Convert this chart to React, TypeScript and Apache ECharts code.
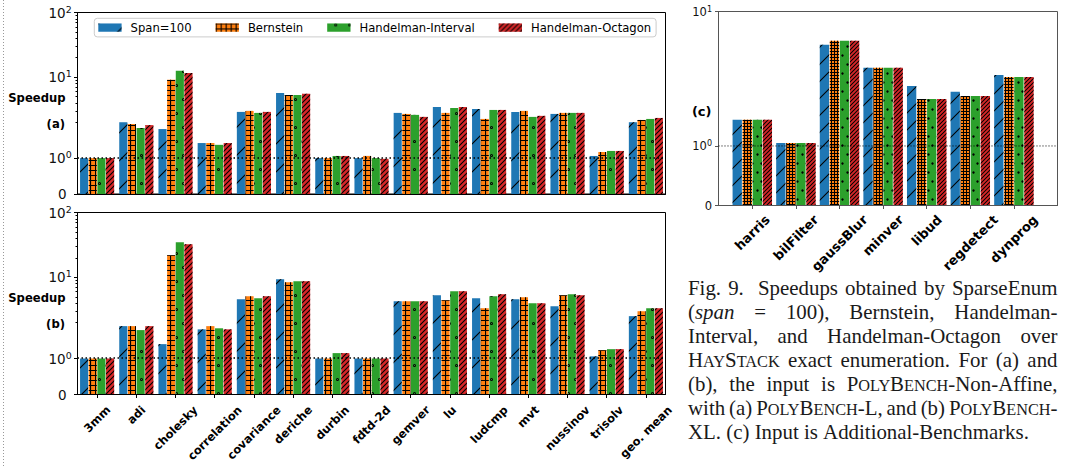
import React, { useEffect, useRef } from 'react';
import * as echarts from 'echarts';

const SERIES_NAMES = ['Span=100', 'Bernstein', 'Handelman-Interval', 'Handelman-Octagon'];
const COLORS = ['#1f77b4', '#ff7f0e', '#2ca02c', '#d62728'];

const BENCH_AB = ['3mm', 'adi', 'cholesky', 'correlation', 'covariance', 'deriche', 'durbin', 'fdtd-2d', 'gemver', 'lu', 'ludcmp', 'mvt', 'nussinov', 'trisolv', 'geo. mean'];

// panel (a): PolyBench-L
const A_SPAN = [1.0, 2.0, 1.81, 1.42, 2.89, 5.69, 1.0, 1.0, 2.79, 3.45, 3.21, 2.89, 2.69, 1.06, 2.0];
const A_BERN = [1.0, 1.95, 9.06, 1.42, 2.99, 5.3, 1.0, 1.06, 2.69, 2.79, 2.25, 2.99, 2.79, 1.17, 2.17];
const A_HINT = [1.0, 1.84, 12.5, 1.37, 2.79, 5.3, 1.06, 1.0, 2.6, 3.33, 3.1, 2.42, 2.79, 1.2, 2.25];
const A_HOCT = [1.0, 1.92, 11.6, 1.42, 2.89, 5.5, 1.06, 0.98, 2.42, 3.45, 3.1, 2.51, 2.79, 1.2, 2.33];

// panel (b): PolyBench-XL
const B_SPAN = [1.0, 1.9, 1.4, 1.81, 4.58, 9.33, 1.0, 1.0, 4.27, 5.28, 4.75, 4.58, 3.57, 1.06, 2.51];
const B_BERN = [1.0, 1.9, 21.9, 1.9, 5.1, 8.4, 1.0, 1.0, 4.27, 4.43, 3.33, 4.92, 5.28, 1.23, 2.99];
const B_HINT = [1.0, 1.79, 34.8, 1.84, 4.75, 8.7, 1.15, 1.0, 4.27, 6.1, 5.1, 3.98, 5.48, 1.26, 3.33];
const B_HOCT = [1.0, 1.9, 32.4, 1.81, 5.1, 8.7, 1.15, 1.0, 4.27, 6.1, 5.48, 3.98, 5.28, 1.26, 3.33];

// panel (c): Additional-Benchmarks
const BENCH_C = ['harris', 'bilFilter', 'gaussBlur', 'minver', 'libud', 'regdetect', 'dynprog'];
const C_SPAN = [1.44, 1.05, 4.89, 2.98, 2.02, 1.91, 2.56];
const C_BERN = [1.44, 1.05, 5.33, 2.98, 1.79, 1.84, 2.45];
const C_HINT = [1.44, 1.05, 5.33, 2.98, 1.79, 1.84, 2.45];
const C_HOCT = [1.44, 1.05, 5.33, 2.98, 1.79, 1.84, 2.45];

const MAJOR_AB = [0, 1, 10, 100];
const MINOR_AB = [2, 3, 4, 5, 6, 7, 8, 9, 20, 30, 40, 50, 60, 70, 80, 90];
const MAJOR_C = [0, 1, 10];

const CAPTION = [
  'Fig. 9.  Speedups obtained by SparseEnum',
  '(_span_ = 100), Bernstein, Handelman-',
  'Interval, and Handelman-Octagon over',
  'H[AY]S[TACK] exact enumeration. For (a) and',
  '(b), the input is P[OLY]B[ENCH]-Non-Affine,',
  'with (a) P[OLY]B[ENCH]-L, and (b) P[OLY]B[ENCH]-',
  'XL. (c) Input is Additional-Benchmarks.',
];

const FONT = 'DejaVu Sans';
const SERIF = 'Liberation Serif';

// matplotlib symlog (linthresh = 2, linscale = 1, base 10), in decades
const LINTHRESH = 2;
const LINSCALE = 1 / (1 - 1 / 10);
function symlog(v: number): number {
  return v <= LINTHRESH ? (v / LINTHRESH) * LINSCALE : LINSCALE + Math.log10(v / LINTHRESH);
}

function diagPath(d: number) {
  const a = (10 - d).toFixed(3);
  const b = d.toFixed(3);
  return `path://M0,${a}L${a},0L10,0L10,${b}L${b},10L0,10ZM0,0L${b},0L0,${b}ZM10,10L${a},10L10,${a}Z`;
}
function gridPath(t: number) {
  const b = t.toFixed(3);
  return `path://M0,0L10,0L10,${b}L${b},${b}L${b},10L0,10Z`;
}
const RING = 'path://M5,0A5,5,0,1,1,5,10A5,5,0,1,1,5,0ZM5,3A2,2,0,1,0,5,7A2,2,0,1,0,5,3Z';

const DECALS_AB: any[] = [
  { symbol: diagPath((0.8 * 10) / 28), symbolSize: 1, dashArrayX: [28, 0], dashArrayY: [28, 0], color: '#000' },
  { symbol: gridPath((1.1 * 10) / 5), symbolSize: 1, dashArrayX: [5, 0], dashArrayY: [5, 0], color: '#000' },
  { symbol: RING, symbolSize: 1, dashArrayX: [[3, 11], [0, 7, 3, 4]], dashArrayY: [3, 11], color: '#000' },
  { symbol: diagPath((0.8 * 10) / 5), symbolSize: 1, dashArrayX: [5, 0], dashArrayY: [5, 0], color: '#000' },
];
const DECALS_C: any[] = [
  { symbol: diagPath((0.75 * 10) / 17), symbolSize: 1, dashArrayX: [17, 0], dashArrayY: [17, 0], color: '#000' },
  { symbol: gridPath((1.0 * 10) / 3), symbolSize: 1, dashArrayX: [3, 0], dashArrayY: [3, 0], color: '#000' },
  { symbol: 'circle', symbolSize: 0.8, dashArrayX: [[3, 6], [0, 4, 3, 2]], dashArrayY: [3, 6], color: '#000' },
  { symbol: diagPath((0.7 * 10) / 4), symbolSize: 1, dashArrayX: [4, 0], dashArrayY: [4, 0], color: '#000' },
];

let measureCtx: CanvasRenderingContext2D | null = null;
function textWidth(s: string, font: string): number {
  if (!measureCtx) measureCtx = document.createElement('canvas').getContext('2d');
  measureCtx!.font = font;
  return measureCtx!.measureText(s).width;
}

function majorFormatter(majors: number[]) {
  return (v: number) => {
    let best = 0;
    majors.forEach((m, i) => {
      if (Math.abs(symlog(m) - v) < Math.abs(symlog(majors[best]) - v)) best = i;
    });
    const m = majors[best];
    if (m === 0) return '{z|0}';
    return `{b|10}{s|${Math.round(Math.log10(m))}}`;
  };
}

function richFor(fs: number, zeroPad: number) {
  const lh = Math.round(fs * 1.15);
  return {
    z: { fontSize: fs, fontFamily: FONT, color: '#111', lineHeight: lh, padding: [0, zeroPad, 0, 0] },
    b: { fontSize: fs, fontFamily: FONT, color: '#111', lineHeight: lh },
    s: { fontSize: fs * 0.7, fontFamily: FONT, color: '#111', lineHeight: Math.round(fs * 0.62), verticalAlign: 'top' },
  };
}

function labelSeries(cats: string[], xIdx: number, yIdx: number, fs: number, pad: number) {
  return {
    type: 'custom',
    xAxisIndex: xIdx,
    yAxisIndex: yIdx,
    silent: true,
    clip: false,
    z: 10,
    data: cats.map((_, i) => [i, 0]),
    renderItem: (params: any, api: any) => {
      const i = api.value(0);
      const p = api.coord([i, 0]);
      const label = cats[i];
      const font = `bold ${fs}px "${FONT}"`;
      const L = textWidth(label, font);
      const h = fs * 1.17;
      const B = (L + h) / Math.SQRT2;
      return {
        type: 'text',
        x: p[0],
        y: p[1] + pad + B / 2,
        rotation: Math.PI / 4,
        style: {
          text: label,
          font,
          fontSize: fs,
          fontWeight: 'bold',
          fontFamily: FONT,
          fill: '#000',
          align: 'center',
          verticalAlign: 'middle',
        },
      };
    },
  };
}

function barSeries(vals: number[][], decals: any[], xIdx: number, yIdx: number, barWidth: number, gap: string, withLine: boolean) {
  return vals.map((v, k) => {
    const s: any = {
      type: 'bar',
      name: SERIES_NAMES[k],
      xAxisIndex: xIdx,
      yAxisIndex: yIdx,
      data: v.map(symlog),
      barWidth,
      barGap: gap,
      itemStyle: { color: COLORS[k], decal: decals[k] },
      emphasis: { disabled: true },
      z: 2,
    };
    if (withLine && k === 0) {
      s.markLine = {
        silent: true,
        symbol: ['none', 'none'],
        label: { show: false },
        lineStyle: { type: [1.5, 2.5], color: '#000', width: 1.5 },
        data: [{ yAxis: symlog(1) }],
        z: 6,
      };
    }
    return s;
  });
}

function captionGraphics(): any[] {
  const lineStart = 688;
  const lineEnd = 1057.5;
  const parse = (word: string) => {
    const segs: { t: string; kind: 'n' | 's' | 'i' }[] = [];
    let kind: 'n' | 's' | 'i' = 'n';
    let cur = '';
    for (const ch of word) {
      if (ch === '[' || ch === ']' || ch === '_') {
        if (cur) segs.push({ t: cur, kind });
        cur = '';
        if (ch === '[') kind = 's';
        else if (ch === ']') kind = 'n';
        else kind = kind === 'i' ? 'n' : 'i';
      } else cur += ch;
    }
    if (cur) segs.push({ t: cur, kind });
    return segs;
  };
  const fontOf = (kind: string, F: number) =>
    kind === 'i' ? `italic ${F}px "${SERIF}"` : kind === 's' ? `${F * 0.78}px "${SERIF}"` : `${F}px "${SERIF}"`;
  const wordWidth = (segs: any[], F: number) => segs.reduce((acc, s) => acc + textWidth(s.t, fontOf(s.kind, F)), 0);

  // fit font size to the final (non-justified) line width
  const last = CAPTION[CAPTION.length - 1].split(' ').map(parse);
  const w20 = last.reduce((a, s) => a + wordWidth(s, 20), 0) + (last.length - 1) * textWidth(' ', `20px "${SERIF}"`);
  const F = (20 * 341) / w20;
  const space = textWidth(' ', `${F}px "${SERIF}"`);

  const out: any[] = [];
  CAPTION.forEach((line, li) => {
    const raw = line.split(' ');
    const words: any[] = [];
    const weights: number[] = [];
    let pending = 0;
    raw.forEach((w) => {
      if (w === '') {
        pending += 1;
        return;
      }
      if (words.length > 0) weights.push(1 + pending);
      pending = 0;
      words.push(parse(w));
    });
    const total = words.reduce((a, s) => a + wordWidth(s, F), 0);
    const wsum = weights.reduce((a, b) => a + b, 0);
    const isLast = li === CAPTION.length - 1;
    const gapUnit = isLast || wsum === 0 ? space : (lineEnd - lineStart - total) / wsum;
    const baseline = 295 + li * 24.0;
    let x = lineStart;
    words.forEach((segs, wi) => {
      segs.forEach((s: any) => {
        const size = s.kind === 's' ? F * 0.78 : F;
        out.push({
          type: 'text',
          x,
          y: baseline - 0.34 * size,
          silent: true,
          style: {
            text: s.t,
            fontFamily: SERIF,
            fontSize: size,
            fontStyle: s.kind === 'i' ? 'italic' : 'normal',
            fill: '#1a1a1a',
            align: 'left',
            verticalAlign: 'middle',
          },
        });
        x += textWidth(s.t, fontOf(s.kind, F));
      });
      if (wi < weights.length) x += gapUnit * weights[wi];
    });
  });
  return out;
}

function buildOption(): any {
  const maxAB = symlog(100);
  const maxC = symlog(10);
  const majorAB = MAJOR_AB.map(symlog);
  const minorAB = MINOR_AB.map(symlog);
  const majorC = MAJOR_C.map(symlog);
  const black = { color: '#000', width: 1 };
  const gray = { color: '#555', width: 1 };

  const mainY = (gridIndex: number, max: number, majors: number[], fmtMajors: number[], fs: number, zeroPad: number, lineStyle: any, margin: number) => ({
    type: 'value',
    gridIndex,
    min: 0,
    max,
    position: 'left',
    z: 5,
    splitLine: { show: false },
    axisLine: { show: true, lineStyle },
    axisTick: { show: true, length: 3.5, lineStyle, customValues: majors },
    axisLabel: {
      show: true,
      customValues: majors,
      formatter: majorFormatter(fmtMajors),
      fontSize: fs,
      fontFamily: FONT,
      color: '#111',
      rich: richFor(fs, zeroPad),
      margin,
      showMinLabel: true,
      showMaxLabel: true,
    },
  });
  const minorY = (gridIndex: number, max: number) => ({
    type: 'value',
    gridIndex,
    min: 0,
    max,
    position: 'left',
    offset: 0,
    z: 5,
    splitLine: { show: false },
    axisLine: { show: false },
    axisTick: { show: true, length: 2, lineStyle: black, customValues: minorAB },
    axisLabel: { show: false },
  });

  const textG = (text: string, x: number, y: number, fs: number) => ({
    type: 'text',
    x,
    y,
    silent: true,
    style: { text, fontFamily: FONT, fontWeight: 'bold', fontSize: fs, fill: '#000', align: 'right', verticalAlign: 'middle' },
  });

  return {
    animation: false,
    backgroundColor: '#fff',
    grid: [
      { left: 77.5, top: 12.5, width: 588, height: 181.5, show: true, borderColor: '#000', borderWidth: 1, backgroundColor: 'transparent' },
      { left: 77.5, top: 212.5, width: 588, height: 182, show: true, borderColor: '#000', borderWidth: 1, backgroundColor: 'transparent' },
      { left: 718.5, top: 11.5, width: 339, height: 194, show: true, borderColor: '#555', borderWidth: 1, backgroundColor: 'transparent' },
      { left: 730.5, top: 11.5, width: 305.2, height: 194 },
    ],
    legend: {
      data: SERIES_NAMES,
      left: 94.3,
      top: 18.3,
      orient: 'horizontal',
      icon: 'rect',
      itemWidth: 23.3,
      itemHeight: 8.3,
      itemGap: 24,
      padding: [3.3, 5, 3.3, 4],
      borderColor: '#cccccc',
      borderWidth: 1,
      borderRadius: 3,
      backgroundColor: 'rgba(255,255,255,0.85)',
      selectedMode: false,
      textStyle: { fontFamily: FONT, fontSize: 11.6, color: '#000', padding: [0, 0, 0, 4] },
      z: 20,
    },
    xAxis: [
      { type: 'category', gridIndex: 0, data: BENCH_AB, z: 5, axisLine: { show: true, lineStyle: black }, axisTick: { show: false }, axisLabel: { show: false }, splitLine: { show: false } },
      {
        type: 'category', gridIndex: 1, data: BENCH_AB, z: 5,
        axisLine: { show: true, lineStyle: black },
        axisTick: { show: true, alignWithLabel: true, interval: 0, length: 3.5, lineStyle: black },
        axisLabel: { show: false, interval: 0 }, splitLine: { show: false },
      },
      { type: 'value', gridIndex: 2, min: 0, max: 1, z: 5, axisLine: { show: true, lineStyle: gray }, axisTick: { show: false }, axisLabel: { show: false }, splitLine: { show: false } },
      {
        type: 'category', gridIndex: 3, data: BENCH_C, z: 5,
        axisLine: { show: false },
        axisTick: { show: true, alignWithLabel: true, interval: 0, length: 3.5, lineStyle: gray },
        axisLabel: { show: false, interval: 0 }, splitLine: { show: false },
      },
    ],
    yAxis: [
      mainY(0, maxAB, majorAB, MAJOR_AB, 13.5, 5, black, 5.8),
      minorY(0, maxAB),
      mainY(1, maxAB, majorAB, MAJOR_AB, 13.5, 5, black, 5.8),
      minorY(1, maxAB),
      mainY(2, maxC, majorC, MAJOR_C, 11.5, 0, gray, 6.5),
      { type: 'value', gridIndex: 3, min: 0, max: maxC, show: false, splitLine: { show: false } },
    ],
    series: [
      ...barSeries([A_SPAN, A_BERN, A_HINT, A_HOCT], DECALS_AB, 0, 0, 8.1, '7%', true),
      ...barSeries([B_SPAN, B_BERN, B_HINT, B_HOCT], DECALS_AB, 1, 2, 8.1, '7%', true),
      ...barSeries([C_SPAN, C_BERN, C_HINT, C_HOCT], DECALS_C, 3, 5, 9.3, '8%', false),
      {
        type: 'line',
        name: 'unity',
        xAxisIndex: 2,
        yAxisIndex: 4,
        data: [[0, symlog(1)], [1, symlog(1)]],
        symbol: 'none',
        silent: true,
        z: 6,
        lineStyle: { type: [1, 2], color: '#000', width: 1 },
      },
      labelSeries(BENCH_AB, 1, 2, 11.5, 8.5),
      labelSeries(BENCH_C, 3, 5, 13, 6.5),
    ],
    graphic: [
      { type: 'line', silent: true, shape: { x1: 3.5, y1: 0, x2: 3.5, y2: 468 }, style: { stroke: '#999', lineWidth: 1, lineDash: [1, 2] } },
      textG('Speedup', 65.5, 97.7, 11.6),
      textG('(a)', 65, 124, 11.6),
      textG('Speedup', 65.5, 297.7, 11.6),
      textG('(b)', 65, 324.3, 11.6),
      textG('(c)', 711.5, 111, 13),
      ...captionGraphics(),
    ],
  };
}

export default function App() {
  const ref = useRef<HTMLDivElement>(null);
  useEffect(() => {
    const chart = echarts.init(ref.current!, undefined, { renderer: 'svg' });
    chart.setOption(buildOption());
    return () => chart.dispose();
  }, []);
  return <div ref={ref} style={{ position: 'absolute', left: 0, top: 0, width: 1073, height: 468, background: '#fff' }} />;
}
